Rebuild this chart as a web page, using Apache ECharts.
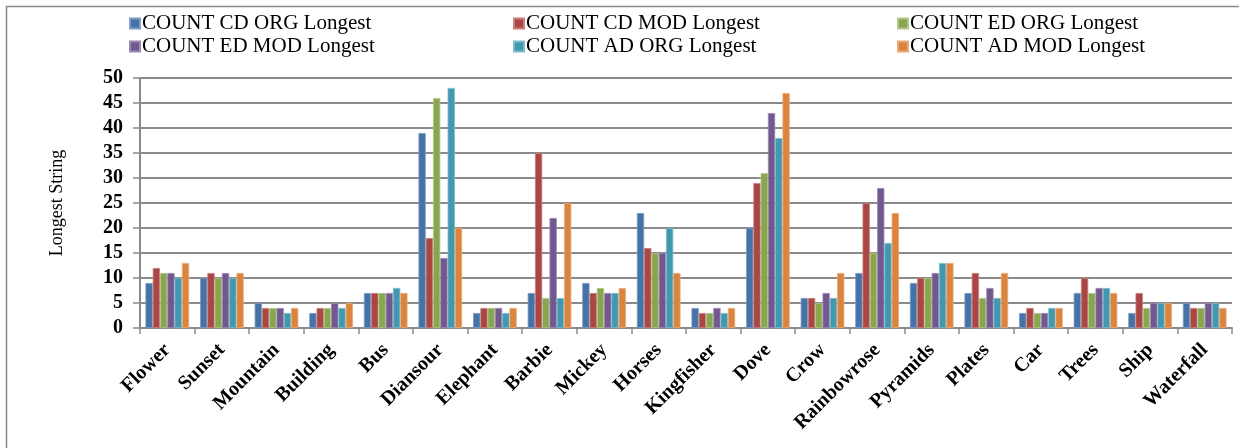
<!DOCTYPE html>
<html>
<head>
<meta charset="utf-8">
<script src="https://cdn.jsdelivr.net/npm/echarts@6/dist/echarts.min.js"></script>
<style>
  html, body { margin: 0; padding: 0; background: #fff; }
  #chart { width: 1239px; height: 448px; }
</style>
</head>
<body>
<div id="chart"></div>
<script>
// Image categories
const categories = ['Flower', 'Sunset', 'Mountain', 'Building', 'Bus', 'Diansour', 'Elephant', 'Barbie', 'Mickey', 'Horses',
  'Kingfisher', 'Dove', 'Crow', 'Rainbowrose', 'Pyramids', 'Plates', 'Car', 'Trees', 'Ship', 'Waterfall'];

// Longest string counts per method
const cdOrg = [9, 10, 5, 3, 7, 39, 3, 7, 9, 23, 4, 20, 6, 11, 9, 7, 3, 7, 3, 5];
const cdMod = [12, 11, 4, 4, 7, 18, 4, 35, 7, 16, 3, 29, 6, 25, 10, 11, 4, 10, 7, 4];
const edOrg = [11, 10, 4, 4, 7, 46, 4, 6, 8, 15, 3, 31, 5, 15, 10, 6, 3, 7, 4, 4];
const edMod = [11, 11, 4, 5, 7, 14, 4, 22, 7, 15, 4, 43, 7, 28, 11, 8, 3, 8, 5, 5];
const adOrg = [10, 10, 3, 4, 8, 48, 3, 6, 7, 20, 3, 38, 6, 17, 13, 6, 4, 8, 5, 5];
const adMod = [13, 11, 4, 5, 7, 20, 4, 25, 8, 11, 4, 47, 11, 23, 13, 11, 4, 7, 5, 4];

const seriesNames = ['COUNT CD ORG Longest', 'COUNT CD MOD Longest', 'COUNT ED ORG Longest',
  'COUNT ED MOD Longest', 'COUNT AD ORG Longest', 'COUNT AD MOD Longest'];
const seriesData = [cdOrg, cdMod, edOrg, edMod, adOrg, adMod];
const colors = ['#4572A7', '#AA4643', '#89A54E', '#71588F', '#4198AF', '#DB843D'];
// Slightly lighter edge tint for each bar
const edgeColors = ['#7d9cc4', '#c77f7d', '#b0c68a', '#9c88b4', '#7cbccc', '#eaaa78'];

const serif = '"Liberation Serif", "Times New Roman", serif';
const gridGray = '#8a8a8a';

function legendColumn(left, names) {
  return {
    data: names,
    orient: 'vertical',
    left: left,
    top: 8,
    itemWidth: 10,
    itemHeight: 10,
    itemGap: 2,
    icon: 'rect',
    textStyle: { fontFamily: serif, fontSize: 21, color: '#000', lineHeight: 21, padding: [0, 0, 0, -3] },
    selectedMode: false
  };
}

const chart = echarts.init(document.getElementById('chart'), null, { renderer: 'canvas' });
chart.setOption({
  animation: false,
  color: colors,
  graphic: [{
    type: 'rect',
    shape: { x: 6.5, y: 6.5, width: 1300, height: 500 },
    style: { fill: 'none', stroke: '#8a8a8a', lineWidth: 1.5 },
    silent: true,
    z: -1
  }],
  legend: [
    legendColumn(124, [seriesNames[0], seriesNames[3]]),
    legendColumn(508, [seriesNames[1], seriesNames[4]]),
    legendColumn(892, [seriesNames[2], seriesNames[5]])
  ],
  grid: { left: 140, right: 7, top: 78, bottom: 120, containLabel: false },
  xAxis: {
    type: 'category',
    data: categories,
    boundaryGap: true,
    axisLine: { lineStyle: { color: gridGray, width: 2 } },
    axisTick: { show: true, alignWithLabel: false, length: 6, lineStyle: { color: gridGray, width: 1.5 } },
    axisLabel: {
      interval: 0,
      rotate: 45,
      margin: 19,
      fontFamily: serif,
      fontSize: 20,
      fontWeight: 'bold',
      color: '#000'
    },
    splitLine: { show: false }
  },
  yAxis: {
    type: 'value',
    min: 0,
    max: 50,
    interval: 5,
    name: 'Longest String',
    nameLocation: 'middle',
    nameRotate: 90,
    nameGap: 74,
    nameTextStyle: { fontFamily: serif, fontSize: 18, color: '#000' },
    axisLine: { show: true, lineStyle: { color: gridGray, width: 2 } },
    axisTick: { show: true, inside: false, length: 7, lineStyle: { color: gridGray, width: 1.5 } },
    axisLabel: { margin: 17, fontFamily: serif, fontSize: 20, fontWeight: 'bold', color: '#000' },
    splitLine: { show: true, lineStyle: { color: gridGray, width: 2 } }
  },
  series: seriesData.map((d, i) => ({
    name: seriesNames[i],
    type: 'bar',
    data: d,
    barGap: '0%',
    barCategoryGap: '20%',
    itemStyle: { color: colors[i], borderColor: edgeColors[i], borderWidth: 0.8 }
  }))
});
</script>
</body>
</html>
